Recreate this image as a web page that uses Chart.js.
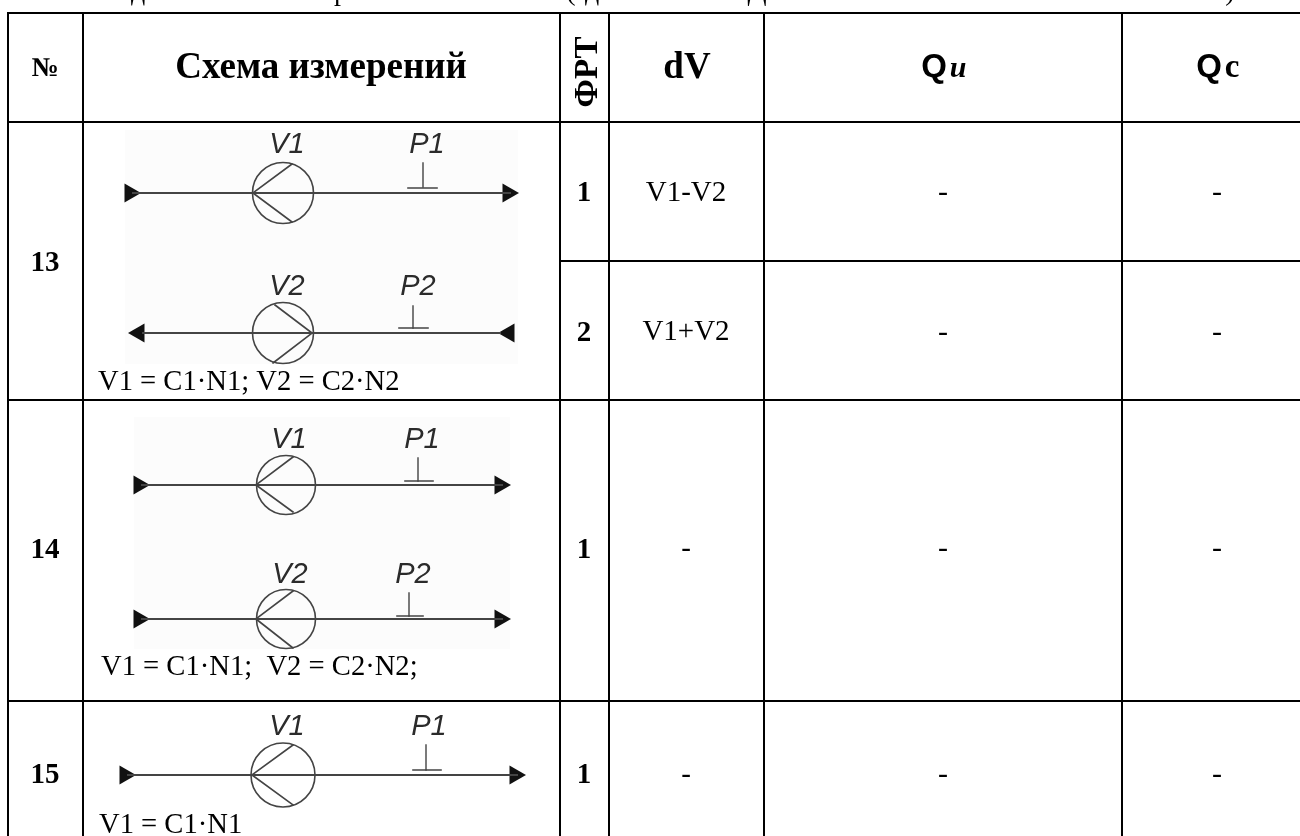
<!DOCTYPE html>
<html>
<head>
<meta charset="utf-8">
<script src="https://cdn.jsdelivr.net/npm/chart.js@4"></script>
<style>
  html, body { margin: 0; padding: 0; background: #fff; overflow: hidden; }
  canvas { display: block; }
</style>
</head>
<body>
<canvas id="schemeTable" width="1300" height="836"></canvas>
<script>
// table rules: x1, y1, x2, y2
const ruleSegments = [
  [8, 13, 1300, 13], [8, 122, 1300, 122], [560, 261, 1300, 261],
  [8, 400, 1300, 400], [8, 701, 1300, 701],
  [8, 13, 8, 836], [83, 13, 83, 836], [560, 13, 560, 836],
  [609, 13, 609, 836], [764, 13, 764, 836], [1122, 13, 1122, 836]
];

const pipeSegments = [
  [133, 193, 510, 193], [143, 333, 500, 333],
  [142, 485, 502, 485], [142, 619, 502, 619], [128, 775, 517, 775]
];
const tapStems = [
  [423, 163, 423, 187], [413, 306, 413, 328],
  [418, 458, 418, 481], [409, 593, 409, 616], [426, 745, 426, 770]
];
const tapBars = [
  [408, 188, 437, 188], [399, 328, 428, 328],
  [405, 481, 433, 481], [397, 616, 423, 616], [413, 770, 441, 770]
];
const bladeSegments = [
  [253, 193, 292, 164], [253, 193, 292, 222],
  [312, 333, 275, 305], [312, 333, 273, 363],
  [256, 485, 293, 457], [256, 485, 293, 512],
  [256, 619, 293, 591], [256, 619, 293, 648],
  [252, 775, 293, 745], [252, 775, 293, 805]
];

const pumpX = [283, 283, 286, 286, 283];
const pumpY = [193, 333, 485, 619, 775];
const pumpR = [30.5, 30.5, 29.5, 29.5, 32];

const arrowRightX = [130, 508, 139, 500, 139, 500, 125, 515];
const arrowRightY = [193, 193, 485, 485, 619, 619, 775, 775];
const arrowLeftX = [139, 509];
const arrowLeftY = [333, 333];

// clipped line of the page text above the table
const cutTitle = ['д', 'р', '(', 'д', 'Д', ')'];
const cutTitleX = [138, 341, 571, 592, 757, 1230];

const headTexts = ['№', 'Схема измерений', 'dV', 'и', 'c'];
const headX = [45, 321, 687, 958, 1232];
const headY = [76, 78, 78, 77, 77];
const headQX = [934, 1209];

const rowNumbers = ['13', '14', '15'];
const rowNumberY = [271, 558, 783];

const modeTexts = ['1', '2', '1', '1'];
const modeY = [201, 341, 558, 783];

const dvTexts = ['V1-V2', 'V1+V2', '-', '-'];
const dvY = [201, 340, 557, 783];
const dashY = [201, 341, 557, 783];

const pumpNames = ['V1', 'V2', 'V1', 'V2', 'V1'];
const pumpNameX = [287, 287, 289, 290, 287];
const pumpNameY = [153, 295, 448, 583, 735];
const tapNames = ['P1', 'P2', 'P1', 'P2', 'P1'];
const tapNameX = [427, 418, 422, 413, 429];

const formulas = ['V1 = C1·N1; V2 = C2·N2', 'V1 = C1·N1;  V2 = C2·N2;', 'V1 = C1·N1'];
const formulaX = [98, 101, 99];
const formulaY = [390, 675, 833];

const SERIF = '"Liberation Serif"';
const SANS = '"Liberation Sans"';

function segmentPoints(segments) {
  const pts = [];
  segments.forEach(s => {
    pts.push({ x: s[0], y: s[1] }, { x: s[2], y: s[3] }, { x: NaN, y: NaN });
  });
  return pts;
}

function lineSet(label, segments, color, width) {
  return {
    label: label,
    data: segmentPoints(segments),
    showLine: true,
    spanGaps: false,
    borderColor: color,
    borderWidth: width,
    pointRadius: 0,
    borderCapStyle: 'square',
    clip: false
  };
}

function zipPoints(xs, ys) {
  return xs.map((x, i) => ({ x: x, y: ys[i] }));
}

function arrowSet(label, xs, ys, rotation) {
  return {
    label: label,
    data: zipPoints(xs, ys),
    showLine: false,
    pointStyle: 'triangle',
    pointRotation: rotation,
    pointRadius: 11,
    pointBackgroundColor: '#111',
    pointBorderColor: '#111',
    pointBorderWidth: 0,
    clip: false
  };
}

const tablePaper = {
  id: 'tablePaper',
  beforeDatasetsDraw(chart) {
    const { ctx, scales: { x, y } } = chart;
    ctx.save();
    ctx.fillStyle = '#fcfcfc';
    [[125, 130, 518, 364], [134, 417, 510, 649]].forEach(r => {
      ctx.fillRect(x.getPixelForValue(r[0]), y.getPixelForValue(r[1]),
        x.getPixelForValue(r[2]) - x.getPixelForValue(r[0]),
        y.getPixelForValue(r[3]) - y.getPixelForValue(r[1]));
    });
    ctx.restore();
  }
};

const tableText = {
  id: 'tableText',
  afterDatasetsDraw(chart) {
    const { ctx, scales: { x, y } } = chart;
    const put = (text, px, py, font, align, color) => {
      ctx.font = font;
      ctx.textAlign = align || 'center';
      ctx.fillStyle = color || '#000';
      ctx.fillText(text, x.getPixelForValue(px), y.getPixelForValue(py));
    };
    ctx.save();
    ctx.textBaseline = 'alphabetic';

    cutTitle.forEach((t, i) => put(t, cutTitleX[i], 0, '28px ' + SERIF));

    put(headTexts[0], headX[0], headY[0], 'bold 27px ' + SERIF);
    put(headTexts[1], headX[1], headY[1], 'bold 37px ' + SERIF);
    put(headTexts[2], headX[2], headY[2], 'bold 37px ' + SERIF);
    put('Q', headQX[0], headY[3], 'bold 33px ' + SANS);
    put(headTexts[3], headX[3], headY[3], 'italic bold 30px ' + SERIF);
    put('Q', headQX[1], headY[4], 'bold 33px ' + SANS);
    put(headTexts[4], headX[4], headY[4], 'bold 33px ' + SERIF);

    // rotated column head
    ctx.save();
    ctx.translate(x.getPixelForValue(597), y.getPixelForValue(72));
    ctx.rotate(-Math.PI / 2);
    ctx.font = 'bold 33px ' + SERIF;
    ctx.textAlign = 'center';
    ctx.fillStyle = '#000';
    ctx.fillText('ФРТ', 0, 0);
    ctx.restore();

    rowNumbers.forEach((t, i) => put(t, 45, rowNumberY[i], 'bold 29px ' + SERIF));
    modeTexts.forEach((t, i) => put(t, 584, modeY[i], 'bold 29px ' + SERIF));
    dvTexts.forEach((t, i) => put(t, 686, dvY[i], '29px ' + SERIF));
    dashY.forEach(v => {
      put('-', 943, v, '30px ' + SERIF);
      put('-', 1217, v, '30px ' + SERIF);
    });

    pumpNames.forEach((t, i) => put(t, pumpNameX[i], pumpNameY[i], 'italic 29px ' + SANS, 'center', '#2b2b2b'));
    tapNames.forEach((t, i) => put(t, tapNameX[i], pumpNameY[i], 'italic 29px ' + SANS, 'center', '#2b2b2b'));
    formulas.forEach((t, i) => put(t, formulaX[i], formulaY[i], '28.6px ' + SERIF, 'left'));
    ctx.restore();
  }
};

new Chart(document.getElementById('schemeTable').getContext('2d'), {
  type: 'scatter',
  data: {
    datasets: [
      lineSet('Table rules', ruleSegments, '#000', 2),
      lineSet('Pipes', pipeSegments, '#444', 2),
      lineSet('Tap stems', tapStems, '#444', 1.4),
      lineSet('Tap bars', tapBars, '#444', 1.6),
      lineSet('Blades', bladeSegments, '#444', 1.6),
      {
        label: 'Pumps',
        data: zipPoints(pumpX, pumpY),
        showLine: false,
        pointStyle: 'circle',
        pointRadius: pumpR,
        pointBackgroundColor: 'rgba(0,0,0,0)',
        pointBorderColor: '#444',
        pointBorderWidth: 1.6,
        clip: false
      },
      arrowSet('Flow right', arrowRightX, arrowRightY, 90),
      arrowSet('Flow left', arrowLeftX, arrowLeftY, 270)
    ]
  },
  options: {
    responsive: false,
    animation: false,
    layout: { padding: 0, autoPadding: false },
    plugins: { legend: { display: false }, title: { display: false }, tooltip: { enabled: false } },
    scales: {
      x: { type: 'linear', display: false, min: 0, max: 1300 },
      y: { type: 'linear', display: false, min: 0, max: 836, reverse: true }
    }
  },
  plugins: [tablePaper, tableText]
});
</script>
</body>
</html>
